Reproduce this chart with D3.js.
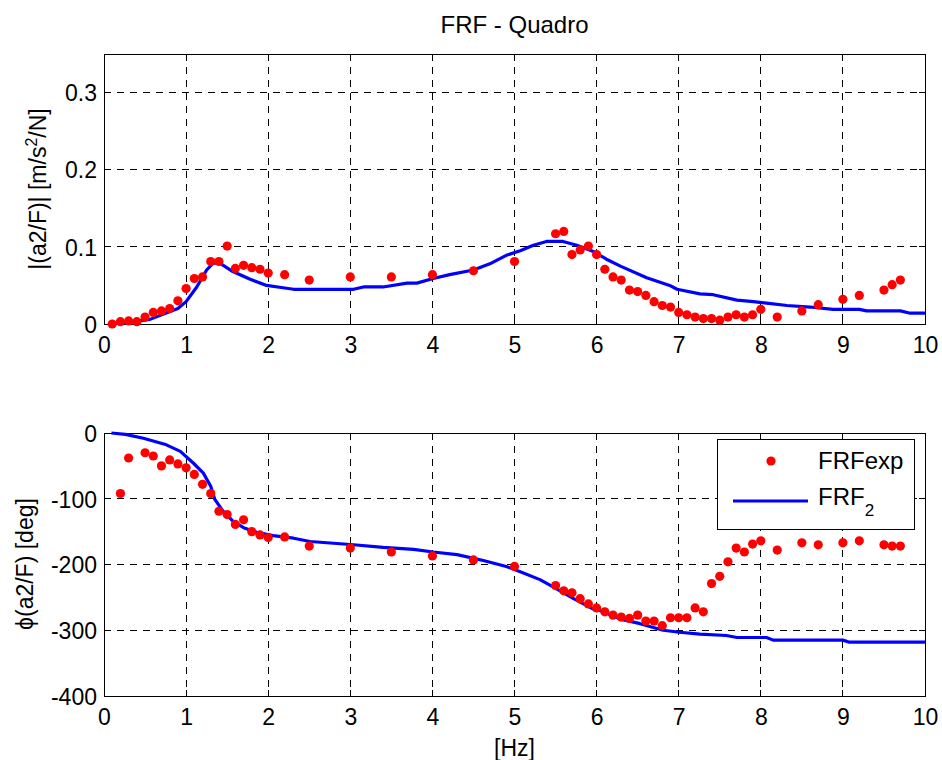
<!DOCTYPE html>
<html>
<head>
<meta charset="utf-8">
<script src="https://cdn.jsdelivr.net/npm/d3@7"></script>
<style>
  html, body { margin: 0; padding: 0; background: #fff; }
  svg { display: block; }
  text { font-family: "Liberation Sans", Arial, Helvetica, sans-serif; fill: #000; }
</style>
</head>
<body>
<svg id="chart" width="942" height="760"></svg>
<script>
// ---------------- DATA ----------------
const title = "FRF - Quadro";
const xTicks = [0, 1, 2, 3, 4, 5, 6, 7, 8, 9, 10];
const magTicks = [0, 0.1, 0.2, 0.3];
const phaseTicks = [0, -100, -200, -300, -400];

// experimental magnitude (FRFexp)
const magFreq = [0.1, 0.2, 0.3, 0.4, 0.5, 0.6, 0.7, 0.8, 0.9, 1.0, 1.1, 1.2, 1.3, 1.4, 1.5, 1.6, 1.7, 1.8, 1.9, 2.0,
  2.2, 2.5, 3.0, 3.5, 4.0, 4.5, 5.0, 5.5, 5.6, 5.7, 5.8, 5.9, 6.0, 6.1, 6.2, 6.3, 6.4, 6.5, 6.6, 6.7, 6.8, 6.9,
  7.0, 7.1, 7.2, 7.3, 7.4, 7.5, 7.6, 7.7, 7.8, 7.9, 8.0, 8.2, 8.5, 8.7, 9.0, 9.2, 9.5, 9.6, 9.7];
const magExp = [0.000, 0.003, 0.004, 0.003, 0.009, 0.015, 0.017, 0.020, 0.030, 0.046, 0.059, 0.061, 0.081, 0.081, 0.101,
  0.072, 0.076, 0.073, 0.071, 0.066, 0.064, 0.057, 0.061, 0.061, 0.064, 0.069, 0.081, 0.117, 0.120, 0.090, 0.096,
  0.101, 0.090, 0.071, 0.061, 0.057, 0.044, 0.042, 0.037, 0.029, 0.024, 0.022, 0.015, 0.012, 0.009, 0.007, 0.007,
  0.005, 0.009, 0.012, 0.009, 0.012, 0.019, 0.009, 0.017, 0.025, 0.032, 0.037, 0.044, 0.051, 0.057];

// experimental phase (FRFexp)
const phaseFreq = [0.2, 0.3, 0.5, 0.6, 0.7, 0.8, 0.9, 1.0, 1.1, 1.2, 1.3, 1.4, 1.5, 1.6, 1.7, 1.8, 1.9, 2.0, 2.2, 2.5,
  3.0, 3.5, 4.0, 4.5, 5.0, 5.5, 5.6, 5.7, 5.8, 5.9, 6.0, 6.1, 6.2, 6.3, 6.4, 6.5, 6.6, 6.7, 6.8, 6.9, 7.0, 7.1,
  7.2, 7.3, 7.4, 7.5, 7.6, 7.7, 7.8, 7.9, 8.0, 8.2, 8.5, 8.7, 9.0, 9.2, 9.5, 9.6, 9.7];
const phaseExp = [-92, -38, -30, -35, -50, -41, -47, -53, -63, -78, -92, -119, -124, -139, -132, -150, -155, -159, -158,
  -172, -175, -181, -187, -193, -203, -232, -240, -243, -252, -260, -266, -272, -277, -280, -282, -277, -286, -286,
  -293, -281, -281, -281, -266, -272, -229, -218, -196, -175, -181, -169, -164, -178, -167, -170, -167, -164, -170,
  -172, -172];

// model FRF_2 magnitude
const modelMagFreq = [0.09, 0.3, 0.56, 0.9, 1.0, 1.13, 1.25, 1.33, 1.41, 1.57, 1.78, 1.98, 2.18, 2.31, 3.04, 3.16, 3.40,
  3.69, 3.81, 4.01, 4.21, 4.50, 4.70, 4.90, 5.07, 5.23, 5.39, 5.59, 5.76, 5.96, 6.12, 6.29, 6.61, 6.89, 6.98, 7.26,
  7.42, 7.71, 7.91, 8.07, 8.32, 8.60, 8.88, 9.2, 9.29, 9.70, 9.82, 10.0];
const modelMag = [0.000, 0.002, 0.006, 0.020, 0.029, 0.048, 0.070, 0.079, 0.079, 0.068, 0.058, 0.050, 0.047, 0.045,
  0.045, 0.048, 0.048, 0.053, 0.053, 0.059, 0.064, 0.070, 0.078, 0.089, 0.095, 0.102, 0.107, 0.107, 0.102, 0.094,
  0.084, 0.075, 0.060, 0.050, 0.045, 0.039, 0.038, 0.031, 0.029, 0.027, 0.024, 0.022, 0.019, 0.019, 0.017, 0.017,
  0.014, 0.014];

// model FRF_2 phase
const modelPhaseFreq = [0.09, 0.26, 0.48, 0.76, 0.93, 1.09, 1.21, 1.30, 1.35, 1.45, 1.57, 1.70, 1.86, 2.06, 2.31, 2.51,
  3.04, 3.40, 3.77, 4.01, 4.30, 4.62, 4.90, 5.07, 5.31, 5.47, 5.72, 5.96, 6.04, 6.29, 6.53, 6.81, 7.01, 7.26, 7.58,
  7.71, 8.07, 8.15, 9.0, 9.07, 10.0];
const modelPhase = [0, -2, -8, -18, -28, -46, -61, -81, -101, -119, -134, -144, -151, -156, -160, -165, -170, -174,
  -177, -181, -185, -194, -203, -211, -223, -234, -252, -268, -270, -283, -290, -300, -303, -306, -308, -311, -311,
  -315, -315, -318, -318];

const legendLabels = ["FRFexp", "FRF"];

// ---------------- LAYOUT ----------------
const svg = d3.select("#chart");
const FONT = 23;
const left = 104, right = 925;
const panels = [
  { top: 54, bottom: 324, domain: [0, 0.35], ticks: magTicks, fmt: d => d === 0 ? "0" : d3.format(".1f")(d),
    grid: [0.1, 0.2, 0.3], expX: magFreq, expY: magExp, modX: modelMagFreq, modY: modelMag },
  { top: 433, bottom: 696, domain: [-400, 0], ticks: phaseTicks, fmt: d => String(d),
    grid: [-100, -200, -300], expX: phaseFreq, expY: phaseExp, modX: modelPhaseFreq, modY: modelPhase }
];

const x = d3.scaleLinear().domain([0, 10]).range([left, right]);
const gridDash = "7,6";
const tickLen = 6;

panels.forEach((p, pi) => {
  const y = d3.scaleLinear().domain(p.domain).range([p.bottom, p.top]);
  const g = svg.append("g");

  // grid
  g.append("g").selectAll("line").data(xTicks.slice(1, -1)).join("line")
    .attr("x1", d => x(d)).attr("x2", d => x(d)).attr("y1", p.top).attr("y2", p.bottom)
    .attr("stroke", "#000").attr("stroke-width", 1).attr("stroke-dasharray", gridDash).attr("shape-rendering", "crispEdges");
  g.append("g").selectAll("line").data(p.grid).join("line")
    .attr("x1", left).attr("x2", right).attr("y1", d => y(d)).attr("y2", d => y(d))
    .attr("stroke", "#000").attr("stroke-width", 1).attr("stroke-dasharray", gridDash).attr("shape-rendering", "crispEdges");

  // inside ticks (all four sides)
  const tk = g.append("g").attr("stroke", "#000").attr("stroke-width", 1).attr("shape-rendering", "crispEdges");
  xTicks.forEach(t => {
    tk.append("line").attr("x1", x(t)).attr("x2", x(t)).attr("y1", p.bottom).attr("y2", p.bottom - tickLen);
    tk.append("line").attr("x1", x(t)).attr("x2", x(t)).attr("y1", p.top).attr("y2", p.top + tickLen);
  });
  p.ticks.forEach(t => {
    tk.append("line").attr("x1", left).attr("x2", left + tickLen).attr("y1", y(t)).attr("y2", y(t));
    tk.append("line").attr("x1", right).attr("x2", right - tickLen).attr("y1", y(t)).attr("y2", y(t));
  });

  // axes via d3 axis for labels (no lines)
  const xAxis = d3.axisBottom(x).tickValues(xTicks).tickFormat(d => String(d)).tickSize(0).tickPadding(0);
  const xa = g.append("g").attr("transform", `translate(0,${p.bottom})`).call(xAxis);
  xa.select(".domain").remove();
  xa.selectAll("text").attr("font-size", FONT).attr("font-family", null).attr("dy", null)
    .attr("y", 29).attr("fill", "#000");

  const yAxis = d3.axisLeft(y).tickValues(p.ticks).tickFormat(p.fmt).tickSize(0).tickPadding(0);
  const ya = g.append("g").attr("transform", `translate(${left},0)`).call(yAxis);
  ya.select(".domain").remove();
  ya.selectAll("text").attr("font-size", FONT).attr("font-family", null).attr("dy", "0.36em")
    .attr("x", -7).attr("fill", "#000");

  // box
  g.append("rect").attr("x", left).attr("y", p.top).attr("width", right - left).attr("height", p.bottom - p.top)
    .attr("fill", "none").attr("stroke", "#000").attr("stroke-width", 1).attr("shape-rendering", "crispEdges");

  // model line
  const line = d3.line().x(d => x(d[0])).y(d => y(d[1]));
  g.append("path").datum(d3.zip(p.modX, p.modY)).attr("d", line)
    .attr("fill", "none").attr("stroke", "#0000ff").attr("stroke-width", 3.2).attr("stroke-linejoin", "round");

  // experimental points
  g.append("g").selectAll("circle").data(d3.zip(p.expX, p.expY)).join("circle")
    .attr("cx", d => x(d[0])).attr("cy", d => y(d[1])).attr("r", 4.6).attr("fill", "#ff0000");
});

// title
svg.append("text").attr("x", (left + right) / 2).attr("y", 33).attr("text-anchor", "middle")
  .attr("font-size", 24).text(title);

// x label
svg.append("text").attr("x", (left + right) / 2).attr("y", 756).attr("text-anchor", "middle")
  .attr("font-size", FONT).text("[Hz]");

// y labels
const yl1 = svg.append("text").attr("transform", "translate(46,189) rotate(-90)").attr("text-anchor", "middle")
  .attr("font-size", FONT);
yl1.append("tspan").text("|(a2/F)| [m/s");
yl1.append("tspan").attr("font-size", 16).attr("dy", -9).text("2");
yl1.append("tspan").attr("dy", 9).text("/N]");

svg.append("text").attr("transform", "translate(33,564) rotate(-90)").attr("text-anchor", "middle")
  .attr("font-size", FONT).text("ϕ(a2/F) [deg]");

// legend
const lg = svg.append("g");
lg.append("rect").attr("x", 717).attr("y", 439).attr("width", 197).attr("height", 90)
  .attr("fill", "#fff").attr("stroke", "#000").attr("stroke-width", 1).attr("shape-rendering", "crispEdges");
lg.append("circle").attr("cx", 771).attr("cy", 461).attr("r", 4.6).attr("fill", "#ff0000");
lg.append("text").attr("x", 818).attr("y", 469).attr("font-size", 24).text(legendLabels[0]);
lg.append("line").attr("x1", 733).attr("x2", 808).attr("y1", 501).attr("y2", 501)
  .attr("stroke", "#0000ff").attr("stroke-width", 3.2);
const l2 = lg.append("text").attr("x", 818).attr("y", 505).attr("font-size", 24);
l2.append("tspan").text(legendLabels[1]);
l2.append("tspan").attr("font-size", 17).attr("dy", 11).text("2");
</script>
</body>
</html>
